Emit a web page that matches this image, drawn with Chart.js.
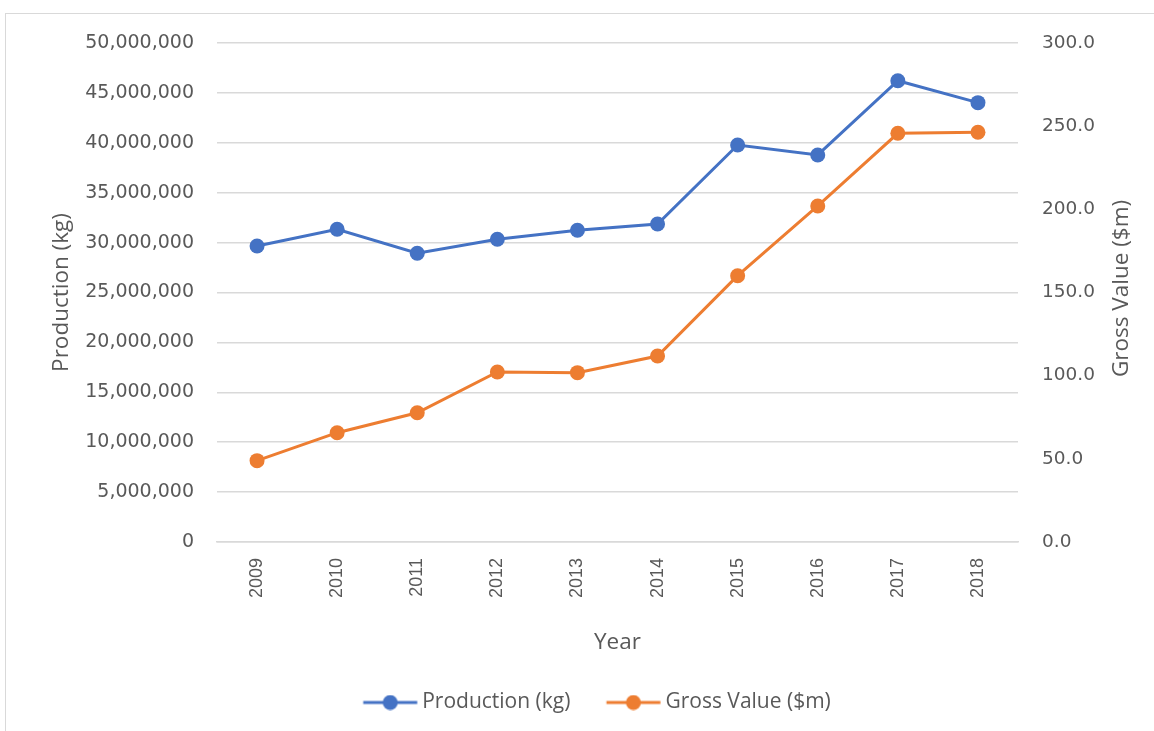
<!DOCTYPE html>
<html>
<head>
<meta charset="utf-8">
<script src="https://cdn.jsdelivr.net/npm/chart.js@4.4.1/dist/chart.umd.min.js"></script>
<style>
  html, body { margin: 0; padding: 0; background: #fff; }
  body { width: 1154px; height: 731px; position: relative; overflow: hidden; }
  .frame { position: absolute; left: 5px; top: 13px; width: 1160px; height: 730px; border: 1px solid #d9d9d9; box-sizing: border-box; }
  .wrap { position: absolute; left: 0; top: 0; width: 1154px; height: 731px; }
</style>
</head>
<body>
<div class="frame"></div>
<div class="wrap"><canvas id="chart"></canvas></div>
<script>
// Data
const years = ['2009', '2010', '2011', '2012', '2013', '2014', '2015', '2016', '2017', '2018'];
const production = [29660000, 31330000, 28930000, 30330000, 31230000, 31860000, 39780000, 38780000, 46220000, 44020000];
const grossValue = [48.9, 65.7, 77.7, 102.2, 101.8, 111.8, 160.1, 202.0, 245.7, 246.3];

const BLUE = '#4472c4';
const ORANGE = '#ed7d31';
const TEXT = '#595959';
const GRID = '#d9d9d9';
const TITLE_FONT = 'Open Sans';
const TICK_FONT = 'DejaVu Sans';

// legend marker: short line with a dot in the middle
function legendMarker(color) {
    const c = document.createElement('canvas');
    c.width = 64;
    c.height = 16;
    const ctx = c.getContext('2d');
    ctx.strokeStyle = color;
    ctx.lineWidth = 3;
    ctx.beginPath();
    ctx.moveTo(7.75, 8);
    ctx.lineTo(61.75, 8);
    ctx.stroke();
    ctx.fillStyle = color;
    ctx.beginPath();
    ctx.arc(34.75, 8, 7.5, 0, Math.PI * 2);
    ctx.fill();
    return c;
}
const markers = [legendMarker(BLUE), legendMarker(ORANGE)];

// right axis title reads bottom-to-top, like the left one
const rightTitle = {
    id: 'rightTitle',
    afterDraw(chart) {
        const area = chart.chartArea;
        const ctx = chart.ctx;
        ctx.save();
        ctx.translate(1122, (area.top + area.bottom) / 2 - 4);
        ctx.rotate(-Math.PI / 2);
        ctx.fillStyle = TEXT;
        ctx.font = '22.5px "' + TITLE_FONT + '"';
        ctx.textAlign = 'center';
        ctx.textBaseline = 'middle';
        ctx.fillText('Gross Value ($m)', 0, 0);
        ctx.restore();
    }
};

new Chart(document.getElementById('chart'), {
    type: 'line',
    data: {
        labels: years,
        datasets: [
            {
                label: 'Production (kg)',
                data: production,
                yAxisID: 'y',
                borderColor: BLUE,
                backgroundColor: BLUE,
                borderWidth: 3,
                pointRadius: 7.5,
                pointHoverRadius: 7.5,
                pointBorderWidth: 0,
                tension: 0
            },
            {
                label: 'Gross Value ($m)',
                data: grossValue,
                yAxisID: 'y1',
                borderColor: ORANGE,
                backgroundColor: ORANGE,
                borderWidth: 3,
                pointRadius: 7.5,
                pointHoverRadius: 7.5,
                pointBorderWidth: 0,
                tension: 0
            }
        ]
    },
    options: {
        responsive: true,
        maintainAspectRatio: false,
        animation: false,
        layout: {
            padding: { left: 40, right: 0, top: 43, bottom: 8 }
        },
        plugins: {
            legend: {
                position: 'bottom',
                labels: {
                    color: TEXT,
                    font: { family: TITLE_FONT, size: 21 },
                    usePointStyle: true,
                    pointStyleWidth: 48.5,
                    padding: 36,
                    generateLabels: function(chart) {
                        const items = Chart.defaults.plugins.legend.labels.generateLabels(chart);
                        items.forEach((item, i) => { item.pointStyle = markers[i]; });
                        return items;
                    }
                }
            },
            tooltip: { enabled: false }
        },
        scales: {
            x: {
                offset: true,
                grid: { display: false, drawTicks: false },
                border: { color: GRID, width: 1.5 },
                ticks: {
                    color: TEXT,
                    font: { family: 'Liberation Sans', size: 18 },
                    minRotation: 90,
                    maxRotation: 90,
                    padding: 16
                },
                title: {
                    display: true,
                    text: 'Year',
                    color: TEXT,
                    font: { family: TITLE_FONT, size: 22.5 },
                    padding: { top: 15, bottom: 0 }
                }
            },
            y: {
                position: 'left',
                min: 0,
                max: 50000000,
                afterFit: function(scale) { scale.width = 177; },
                grid: { color: GRID, lineWidth: 1.5, drawTicks: false },
                border: { display: false },
                ticks: {
                    stepSize: 5000000,
                    color: TEXT,
                    font: { family: TICK_FONT, size: 19 },
                    padding: 23,
                    callback: v => v.toLocaleString('en-US')
                },
                title: {
                    display: true,
                    text: 'Production (kg)',
                    color: TEXT,
                    font: { family: TITLE_FONT, size: 22.5 },
                    padding: { top: 8, bottom: 0 }
                }
            },
            y1: {
                position: 'right',
                min: 0,
                max: 300,
                afterFit: function(scale) { scale.width = 136; },
                grid: { drawOnChartArea: false, drawTicks: false },
                border: { display: false },
                ticks: {
                    stepSize: 50,
                    color: TEXT,
                    font: { family: TICK_FONT, size: 18.5 },
                    padding: 24,
                    callback: v => v.toFixed(1)
                }
            }
        }
    },
    plugins: [rightTitle]
});
</script>
</body>
</html>
